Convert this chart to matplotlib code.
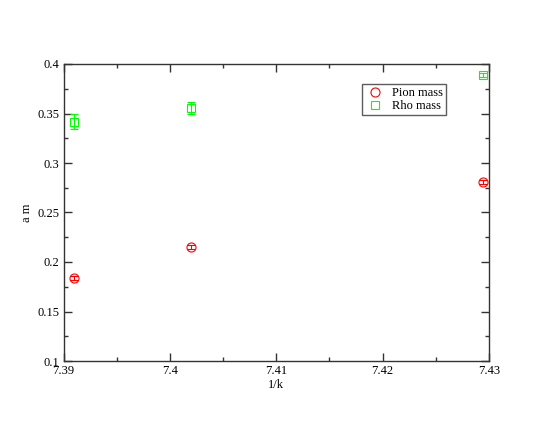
import matplotlib
matplotlib.use("Agg")
import matplotlib.pyplot as plt
from matplotlib.lines import Line2D
from matplotlib.ticker import MultipleLocator, FixedLocator, FixedFormatter

plt.rcParams['font.family'] = ['Liberation Serif', 'DejaVu Serif']

inv_k = [7.3910, 7.4020, 7.4294]
pion_mass = [0.1835, 0.2148, 0.2805]
pion_err = [0.0020, 0.0020, 0.0020]
rho_mass = [0.3417, 0.3554, 0.3889]
rho_err = [0.0074, 0.0059, 0.0020]

x_ticks = [7.39, 7.40, 7.41, 7.42, 7.43]
x_labels = ["7.39", "7.4", "7.41", "7.42", "7.43"]
y_ticks = [0.1, 0.15, 0.2, 0.25, 0.3, 0.35, 0.4]
y_labels = ["0.1", "0.15", "0.2", "0.25", "0.3", "0.35", "0.4"]

FS = 9

fig = plt.figure(figsize=(5.5, 4.25), dpi=100)
ax = fig.add_axes([63.5/550, 1-361/425, (489-63.5)/550, (361-64)/425])

ax.errorbar(inv_k, pion_mass, yerr=pion_err, fmt='o', color='#ff0000',
            mfc='none', mec='#ff0000', ms=6.5, mew=0.8, elinewidth=0.8,
            capsize=3.2, capthick=0.8)
ax.errorbar(inv_k, rho_mass, yerr=rho_err, fmt='s', color='#00ff00',
            mfc='none', mec='#00ff00', ms=6.0, mew=0.8, elinewidth=0.8,
            capsize=3.2, capthick=0.8)

ax.set_xlim(7.39, 7.43)
ax.set_ylim(0.1, 0.4)
ax.xaxis.set_major_locator(FixedLocator(x_ticks))
ax.xaxis.set_major_formatter(FixedFormatter(x_labels))
ax.yaxis.set_major_locator(FixedLocator(y_ticks))
ax.yaxis.set_major_formatter(FixedFormatter(y_labels))
ax.xaxis.set_minor_locator(MultipleLocator(0.005))
ax.yaxis.set_minor_locator(MultipleLocator(0.025))

ax.tick_params(which='both', direction='in', top=True, right=True,
               labelsize=FS, color='#333333', width=1.0)
ax.tick_params(which='major', length=5.8, pad=3)
ax.tick_params(which='minor', length=2.9)
for s in ax.spines.values():
    s.set_color('#333333')
    s.set_linewidth(1.0)

ax.set_xlabel('1/k', fontsize=FS, labelpad=1)
ax.set_ylabel('a m', fontsize=FS)
ax.yaxis.set_label_coords(-0.071, 0.5)

handles = [
    Line2D([], [], ls='none', marker='o', ms=6.5, mfc='none', mec='#ff0000', mew=0.8),
    Line2D([], [], ls='none', marker='s', ms=6.0, mfc='none', mec='#00ff00', mew=0.8),
]
leg = ax.legend(handles, ['Pion mass', 'Rho mass'], loc='upper left',
                bbox_to_anchor=((361.5-63.5)/425.5, 1-(84.3-64)/297),
                frameon=True, fancybox=False, fontsize=FS, handlelength=1.6,
                handletextpad=0.55, borderpad=0.25, labelspacing=0.05,
                borderaxespad=0)
leg.get_frame().set_edgecolor('#333333')
leg.get_frame().set_linewidth(1.0)

fig.savefig('out.png', dpi=100)
